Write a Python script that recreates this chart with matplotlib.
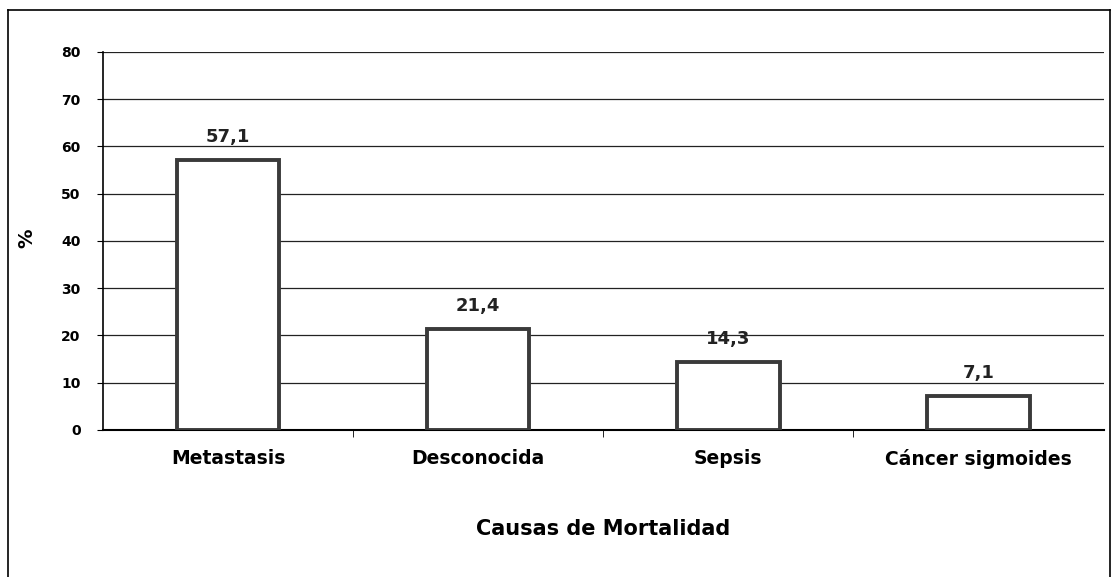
import matplotlib
matplotlib.use("Agg")
import matplotlib.pyplot as plt

categories = ["Metastasis", "Desconocida", "Sepsis", "Cáncer sigmoides"]
values = [57.1, 21.4, 14.3, 7.1]
labels = ["57,1", "21,4", "14,3", "7,1"]
yticks = [0, 10, 20, 30, 40, 50, 60, 70, 80]

plt.rcParams['font.family'] = ['DejaVu Sans']

fig = plt.figure(figsize=(11.13, 5.77), dpi=100)
ax = fig.add_axes([0.0925, 0.255, 0.899, 0.655])

# frame around the whole figure (left, top, right only, like the scan)
fig.add_artist(plt.Line2D([0.007, 0.007], [0.0, 0.983], color="black", lw=1.2, transform=fig.transFigure))
fig.add_artist(plt.Line2D([0.007, 0.997], [0.983, 0.983], color="black", lw=1.2, transform=fig.transFigure))
fig.add_artist(plt.Line2D([0.997, 0.997], [0.0, 0.983], color="black", lw=1.2, transform=fig.transFigure))

x = range(len(categories))
ax.bar(x, values, width=0.41, color="white", edgecolor="#3a3a3a", linewidth=2.8, zorder=3)

for i, (v, lab) in enumerate(zip(values, labels)):
    ax.text(i, v + 3.0, lab, ha="center", va="bottom", fontsize=13, fontweight="bold", color="#222222")

ax.set_xlim(-0.5, 3.5)
ax.set_ylim(0, 80)
ax.set_yticks(yticks)
ax.set_yticklabels([str(t) for t in yticks], fontsize=10, fontweight="bold")
ax.yaxis.grid(True, color="#222222", linewidth=0.9, zorder=0)
ax.set_axisbelow(True)

ax.set_xticks(x)
ax.set_xticklabels(categories, fontsize=13.5, fontweight="bold")
ax.tick_params(axis="x", length=0, pad=14)
ax.set_xticks([0.5, 1.5, 2.5], minor=True)
ax.tick_params(axis="x", which="minor", length=5, direction="out")
ax.tick_params(axis="y", length=4, pad=12)

for s in ["top", "right"]:
    ax.spines[s].set_visible(False)
ax.spines["left"].set_linewidth(1.2)
ax.spines["bottom"].set_linewidth(1.5)

ax.set_ylabel("%", fontsize=14, fontweight="bold")
ax.yaxis.set_label_coords(-0.067, 0.508)
ax.set_xlabel("Causas de Mortalidad", fontsize=15, fontweight="bold", labelpad=36)

fig.savefig("out.png", dpi=100, facecolor="white")
